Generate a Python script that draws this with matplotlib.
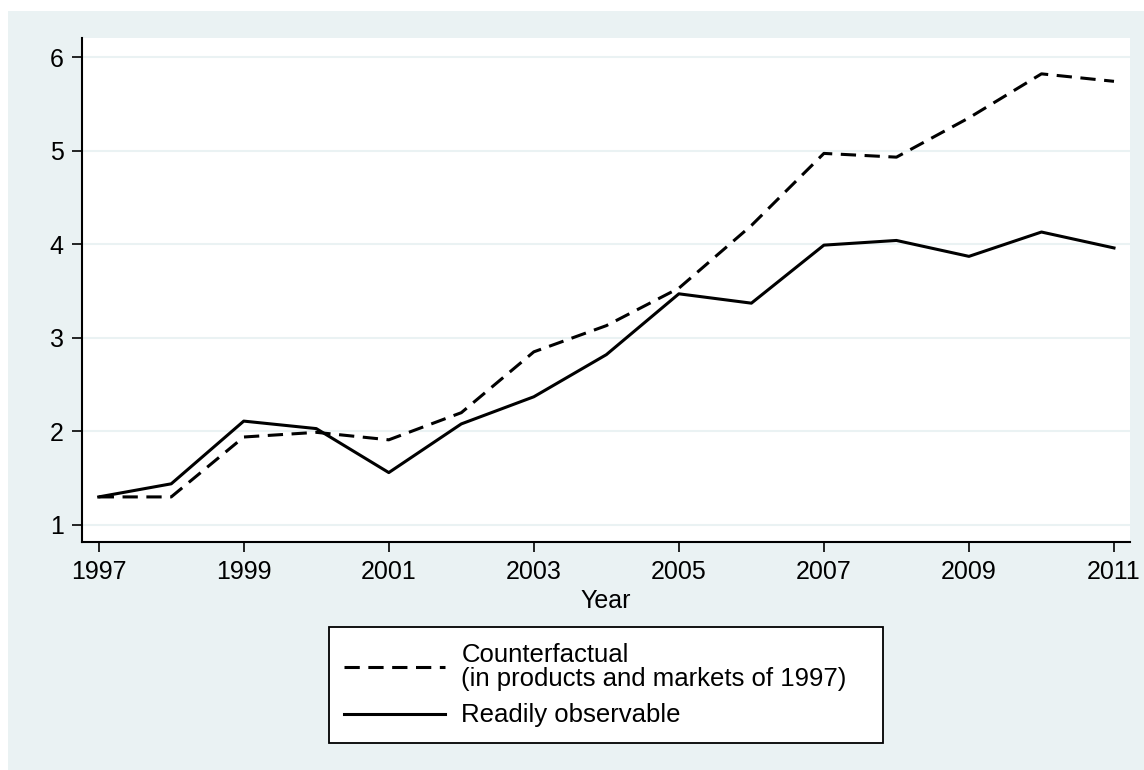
import numpy as np
import matplotlib.pyplot as plt
from matplotlib.patches import Rectangle

# Yıllar ve seriler
years = np.arange(1997, 2012)
counterfactual = [1.30, 1.30, 1.94, 1.99, 1.91, 2.20, 2.85, 3.13, 3.53, 4.20, 4.97, 4.93, 5.35, 5.82, 5.74]
observable = [1.30, 1.44, 2.11, 2.03, 1.56, 2.08, 2.37, 2.82, 3.47, 3.37, 3.99, 4.04, 3.87, 4.13, 3.96]
x_ticks = [1997, 1999, 2001, 2003, 2005, 2007, 2009, 2011]
y_ticks = [1, 2, 3, 4, 5, 6]
labels = ['Counterfactual\n(in products and markets of 1997)', 'Readily observable']

bg = '#EAF2F3'
plt.rcParams['font.family'] = ['Liberation Sans', 'DejaVu Sans']

W, H = 1144, 770
fig = plt.figure(figsize=(W / 100, H / 100), dpi=100)
fig.patch.set_facecolor('white')
fig.patches.append(Rectangle((8 / W, 0), 1 - 8 / W, 1 - 11 / H, transform=fig.transFigure,
                             facecolor=bg, edgecolor='none', zorder=-5))

# eksen konumu (piksel)
left, right, top, bottom = 82, 1130, 38, 542
ax = fig.add_axes([left / W, 1 - bottom / H, (right - left) / W, (bottom - top) / H])
ax.set_zorder(1)
ax.set_facecolor('white')

l1, = ax.plot(years, counterfactual, color='black', lw=2.2, linestyle=(0, (5, 2.8)))
l2, = ax.plot(years, observable, color='black', lw=2.2)

x0, x1 = 1997, 2011
px_per_year = (1114 - 98.7) / 14
ax.set_xlim(x0 - (98.7 - left) / px_per_year, x1 + (right - 1114) / px_per_year)
px_per_unit = (525 - 57) / 5
ax.set_ylim(1 - (bottom - 525) / px_per_unit, 6 + (57 - top) / px_per_unit)

ax.set_xticks(x_ticks)
ax.set_yticks(y_ticks)
ax.tick_params(axis='both', direction='out', length=7.2, width=1.2, labelsize=18, color='black')
ax.tick_params(axis='y', pad=6)
ax.tick_params(axis='x', pad=6)
ax.grid(axis='y', color=bg, lw=1.5)
ax.set_axisbelow(True)
for s in ['top', 'right']:
    ax.spines[s].set_visible(False)
for s in ['left', 'bottom']:
    ax.spines[s].set_linewidth(1.5)
ax.set_xlabel('Year', fontsize=18, labelpad=3)

leg = fig.legend([l1, l2], labels, loc='upper left', mode='expand',
                 bbox_to_anchor=(329 / W, 1 - 628 / H, 554 / W, 0.001), bbox_transform=fig.transFigure,
                 fontsize=18.5, handlelength=3.9, frameon=True, fancybox=False,
                 edgecolor='black', framealpha=1, facecolor='white',
                 borderpad=0.6, labelspacing=0.5, handletextpad=0.65, borderaxespad=0)
leg.get_frame().set_linewidth(1.3)
for t in leg.get_texts():
    t.set_linespacing(1.0)
leg.set_zorder(2)

fig.savefig('out.png', dpi=100)
